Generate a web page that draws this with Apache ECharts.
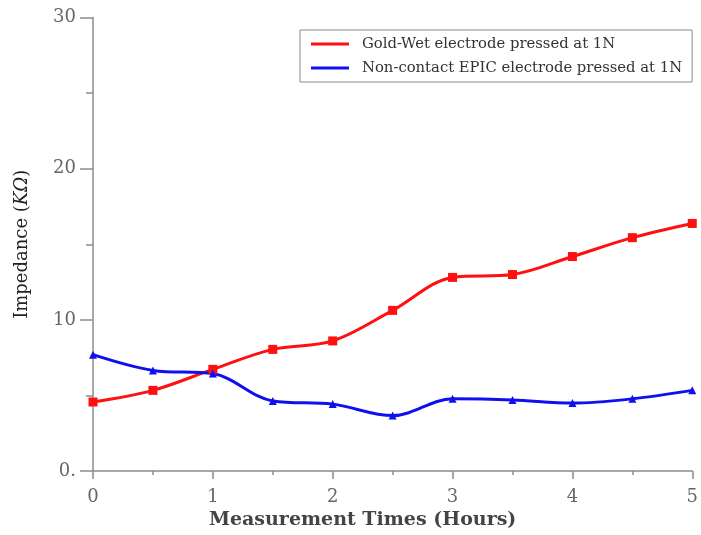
<!DOCTYPE html>
<html>
<head>
<meta charset="utf-8">
<script src="https://cdn.jsdelivr.net/npm/echarts@6/dist/echarts.min.js"></script>
<style>html,body{margin:0;padding:0;background:#fff;}#c{width:701px;height:535px;}</style>
</head>
<body>
<div id="c"></div>
<script>
const hours = [0, 0.5, 1, 1.5, 2, 2.5, 3, 3.5, 4, 4.5, 5];
const goldWet = [4.57, 5.34, 6.73, 8.05, 8.61, 10.63, 12.81, 13.0, 14.19, 15.44, 16.38];
const epic = [7.70, 6.66, 6.45, 4.64, 4.43, 3.67, 4.78, 4.71, 4.50, 4.78, 5.34];
const seriesNames = ['Gold-Wet electrode pressed at 1N', 'Non-contact EPIC electrode pressed at 1N'];
const yTicks = [0, 10, 20, 30];
const xTicks = [0, 1, 2, 3, 4, 5];

const serif = 'DejaVu Serif, Liberation Serif, serif';
const chart = echarts.init(document.getElementById('c'));
chart.setOption({
  animation: false,
  backgroundColor: '#fff',
  grid: { left: 93, right: 1, top: 17.5, bottom: 62.5, containLabel: false },
  legend: {
    orient: 'vertical',
    left: 300, top: 30,
    borderColor: '#8a8a8a', borderWidth: 1,
    padding: [5, 10, 5, 11],
    itemGap: 6,
    itemWidth: 38, itemHeight: 3,
    textStyle: { fontFamily: serif, fontSize: 14.8, lineHeight: 18, color: '#333', padding: [0, 0, 0, 8] },
    data: [
      { name: seriesNames[0], icon: 'rect', itemStyle: { color: '#ff1010' } },
      { name: seriesNames[1], icon: 'rect', itemStyle: { color: '#1010ee' } }
    ]
  },
  xAxis: {
    type: 'value', min: xTicks[0], max: xTicks[xTicks.length - 1], interval: 1,
    name: 'Measurement Times (Hours)', nameLocation: 'middle', nameGap: 38,
    nameTextStyle: { fontFamily: serif, fontSize: 19, fontWeight: 'bold', color: '#444', padding: [0, 60, 0, 0] },
    axisLine: { show: true, onZero: false, lineStyle: { color: '#8c8c8c', width: 1.5 } },
    axisTick: { show: true, length: 8, lineStyle: { color: '#8c8c8c', width: 1.5 } },
    minorTick: { show: true, splitNumber: 2, length: 4, lineStyle: { color: '#8c8c8c', width: 1.5 } },
    splitLine: { show: false },
    axisLabel: { fontFamily: serif, fontSize: 18, color: '#666', margin: 17 }
  },
  yAxis: {
    type: 'value', min: yTicks[0], max: yTicks[yTicks.length - 1], interval: 10,
    name: '{n|Impedance (}{i|KΩ}{n|)}', nameLocation: 'middle', nameGap: 62, nameRotate: 90,
    nameTextStyle: {
      rich: {
        n: { fontFamily: serif, fontSize: 18, color: '#222' },
        i: { fontFamily: serif, fontSize: 18, color: '#222', fontStyle: 'italic' }
      }
    },
    axisLine: { show: true, lineStyle: { color: '#8c8c8c', width: 1.5 } },
    axisTick: { show: true, length: 13, lineStyle: { color: '#8c8c8c', width: 1.5 } },
    minorTick: { show: true, splitNumber: 2, length: 7, lineStyle: { color: '#8c8c8c', width: 1.5 } },
    splitLine: { show: false },
    axisLabel: { fontFamily: serif, fontSize: 18, color: '#666', margin: 17,
      formatter: v => v === 0 ? '0.' : String(v) }
  },
  series: [
    {
      name: seriesNames[0], type: 'line', smooth: 0.35,
      data: hours.map((h, i) => [h, goldWet[i]]),
      symbol: 'rect', symbolSize: 9,
      lineStyle: { color: '#ff1010', width: 3 },
      itemStyle: { color: '#ff1010' }
    },
    {
      name: seriesNames[1], type: 'line', smooth: 0.35,
      data: hours.map((h, i) => [h, epic[i]]),
      symbol: 'triangle', symbolSize: 8,
      lineStyle: { color: '#1010ee', width: 3 },
      itemStyle: { color: '#1010ee' }
    }
  ]
});
</script>
</body>
</html>
